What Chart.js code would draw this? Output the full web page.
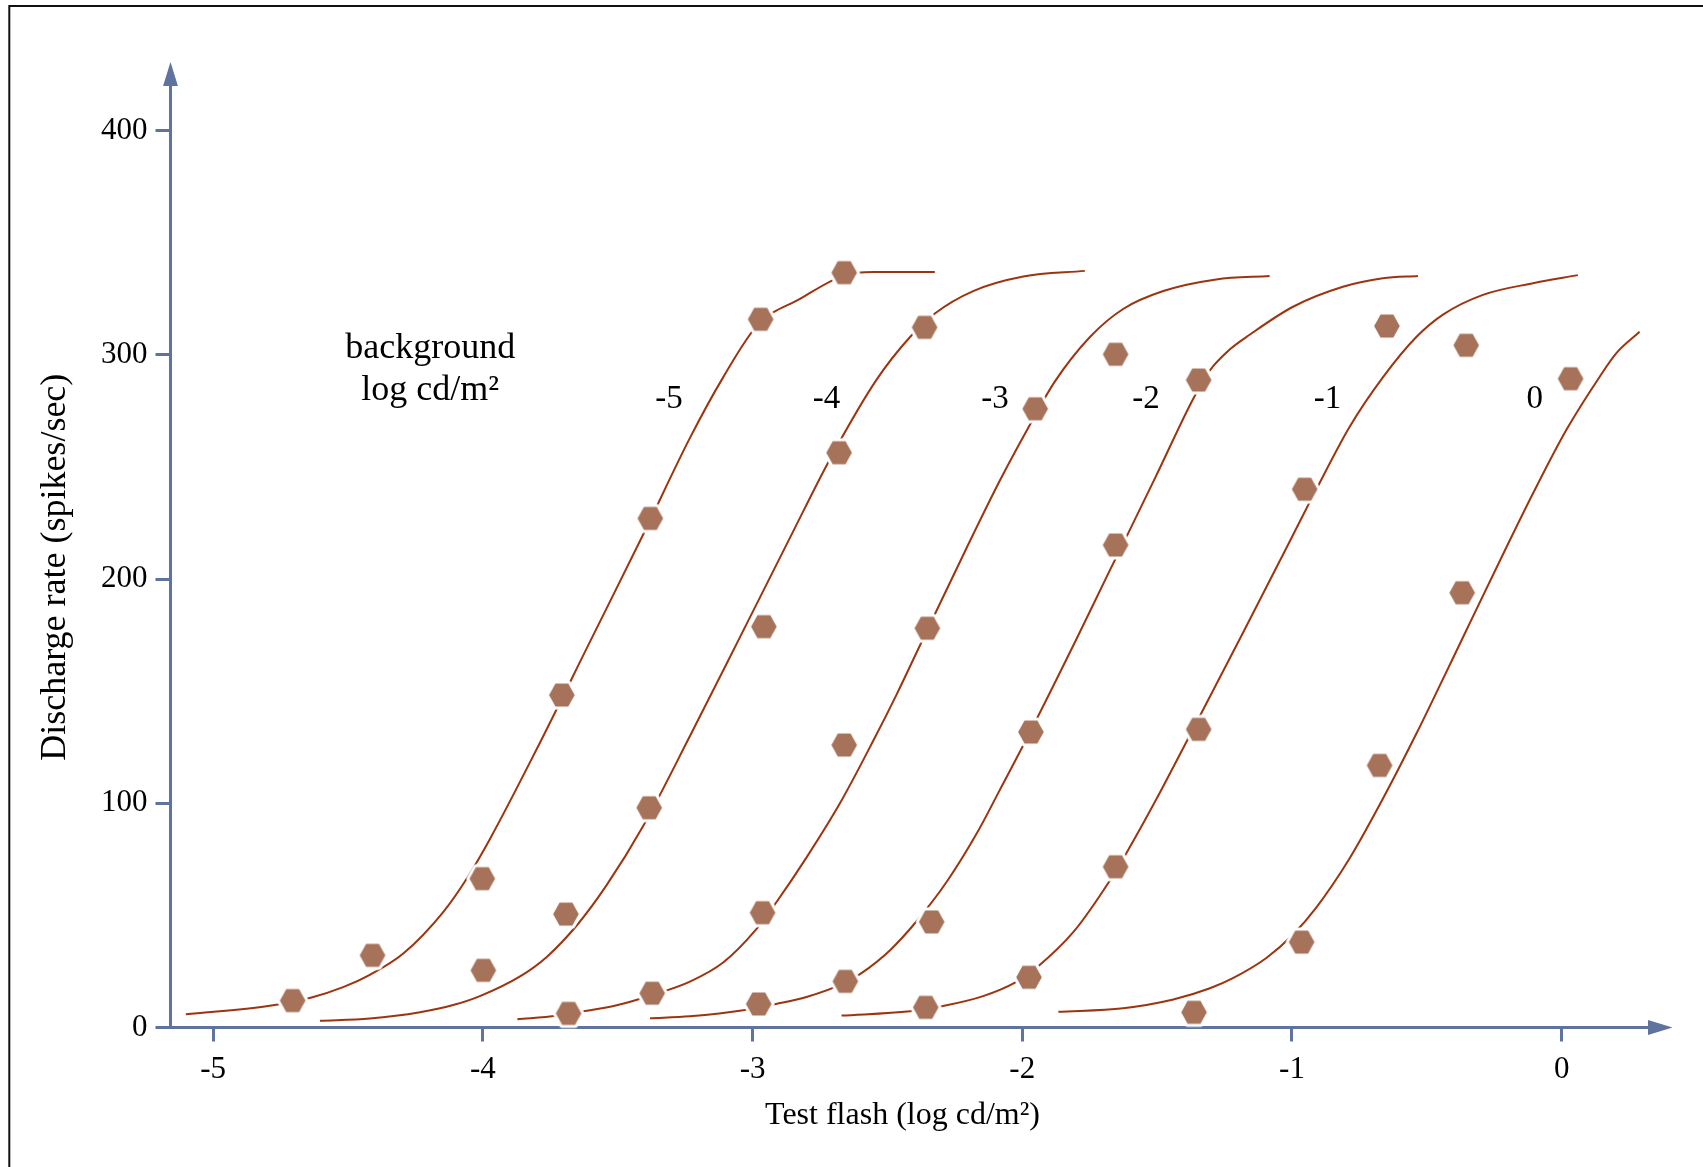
<!DOCTYPE html>
<html>
<head>
<meta charset="utf-8">
<title>Discharge rate vs test flash</title>
<script src="https://cdn.jsdelivr.net/npm/chart.js@4.4.1/dist/chart.umd.min.js"></script>
<style>
  html, body { margin: 0; padding: 0; background: #fff; }
  canvas { display: block; }
</style>
</head>
<body>
<canvas id="chart" width="1703" height="1167"></canvas>
<script>
// Background luminance of each response family (log cd/m²)
const backgrounds = ['-5', '-4', '-3', '-2', '-1', '0'];

// Measured responses: [test flash (log cd/m²), discharge rate (spikes/sec)]
const dataBgM5 = [[-4.705, 12.0], [-4.409, 32.2], [-4.002, 66.4], [-3.707, 148.3], [-3.379, 227.1], [-2.970, 315.9], [-2.660, 336.7]];
const dataBgM4 = [[-3.998, 25.5], [-3.692, 50.6], [-3.383, 98.0], [-2.958, 178.8], [-2.679, 256.4], [-2.362, 312.3]];
const dataBgM3 = [[-3.682, 6.3], [-3.372, 15.3], [-2.963, 51.2], [-2.660, 126.0], [-2.352, 178.1], [-1.952, 276.0], [-1.654, 300.3]];
const dataBgM2 = [[-2.977, 10.5], [-2.656, 20.6], [-2.336, 47.1], [-1.968, 131.8], [-1.654, 215.2], [-1.346, 288.8]];
const dataBgM1 = [[-2.358, 9.0], [-1.975, 22.4], [-1.654, 71.7], [-1.346, 133.0], [-0.953, 240.1], [-0.648, 312.9]];
const dataBg0  = [[-1.363, 6.8], [-0.964, 38.1], [-0.675, 116.9], [-0.369, 193.9], [-0.354, 304.3], [0.033, 289.4]];

// Fitted response curves, traced as [test flash, discharge rate] pairs
const fitBgM5 = [[-5.101, 5.9], [-4.790, 9.7], [-4.635, 13.4], [-4.518, 18.0], [-4.419, 23.5], [-4.295, 33.0],
  [-4.147, 51.5], [-4.054, 67.5], [-3.974, 84.0], [-3.801, 124.0], [-3.603, 172.0], [-3.405, 220.0], [-3.232, 263.0],
  [-3.109, 290.0], [-2.980, 313.5], [-2.824, 325.0], [-2.660, 335.5], [-2.550, 337.0], [-2.324, 337.0]];
const fitBgM4 = [[-4.604, 3.0], [-4.419, 4.0], [-4.233, 6.8], [-4.110, 10.0], [-4.011, 14.0], [-3.862, 22.8],
  [-3.763, 31.5], [-3.652, 45.5], [-3.541, 63.5], [-3.405, 90.0], [-3.232, 130.0], [-3.047, 174.0], [-2.861, 218.5],
  [-2.713, 253.5], [-2.540, 289.0], [-2.416, 308.0], [-2.324, 318.5], [-2.182, 328.5], [-1.996, 335.0], [-1.768, 337.5]];
const fitBgM3 = [[-3.872, 3.7], [-3.726, 5.2], [-3.634, 7.0], [-3.500, 10.0], [-3.372, 14.5], [-3.232, 20.5],
  [-3.109, 29.0], [-2.985, 44.0], [-2.911, 56.0], [-2.799, 76.0], [-2.676, 100.0], [-2.552, 128.0], [-2.466, 148.5],
  [-2.379, 170.5], [-2.206, 214.0], [-2.083, 244.0], [-1.971, 269.0], [-1.880, 288.0], [-1.749, 308.0], [-1.626, 320.5],
  [-1.477, 328.5], [-1.281, 333.7], [-1.083, 335.2]];
const fitBgM2 = [[-3.380, 4.1], [-3.232, 5.0], [-3.028, 7.8], [-2.913, 10.5], [-2.800, 13.6], [-2.656, 20.0],
  [-2.599, 24.0], [-2.490, 34.5], [-2.391, 47.5], [-2.280, 65.0], [-2.169, 86.5], [-2.083, 106.0], [-1.968, 132.5],
  [-1.798, 173.5], [-1.675, 204.0], [-1.607, 220.5], [-1.500, 247.0], [-1.366, 280.5], [-1.305, 293.0], [-1.230, 302.5],
  [-1.157, 309.0], [-0.996, 321.5], [-0.811, 330.4], [-0.663, 334.2], [-0.533, 335.2]];
const fitBgM1 = [[-2.670, 5.3], [-2.416, 7.2], [-2.297, 9.5], [-2.145, 14.0], [-2.027, 20.0], [-1.944, 27.0],
  [-1.811, 42.5], [-1.700, 61.0], [-1.613, 78.0], [-1.502, 102.0], [-1.378, 130.5], [-1.182, 176.0], [-1.033, 211.0],
  [-0.910, 240.0], [-0.786, 268.0], [-0.663, 290.0], [-0.539, 308.0], [-0.440, 318.0], [-0.292, 326.8], [-0.106, 332.0],
  [0.060, 335.6]];
const fitBg0 = [[-1.866, 7.0], [-1.626, 8.6], [-1.440, 12.5], [-1.304, 17.5], [-1.219, 22.0], [-1.095, 31.0],
  [-0.996, 41.5], [-0.910, 53.5], [-0.786, 75.5], [-0.663, 102.0], [-0.539, 131.0], [-0.452, 152.5], [-0.372, 172.5],
  [-0.230, 208.0], [-0.106, 238.3], [0.017, 266.5], [0.141, 290.3], [0.202, 300.7], [0.289, 310.3]];

// Axis ticks and texts
const xTicks = [-5, -4, -3, -2, -1, 0];
const xTickLabels = ['-5', '-4', '-3', '-2', '-1', '0'];
const yTicks = [0, 100, 200, 300, 400];
const yTickLabels = ['0', '100', '200', '300', '400'];
const xTitle = 'Test flash (log cd/m²)';
const yTitle = 'Discharge rate (spikes/sec)';
const noteLines = ['background', 'log cd/m²'];

// Styling and placement (label anchors are given in axis units)
const FONT = '"Liberation Serif", "Times New Roman", serif';
const axisColor = '#5f739f';
const curveColor = '#9c3410';
const markerColor = '#a6725a';
const labelPlace = {
  curveX: [-3.310, -2.726, -2.101, -1.541, -0.868, -0.100],
  curveBaseline: 276.2,
  noteX: -4.195,
  noteBaseline: [298.8, 279.9]
};
const arrowGeom = { yStem: 21, yLen: 24, xStem: 13.5, xLen: 24.5, half: 7.4 };

// Hexagonal marker with a white halo that breaks the curve underneath it
const hexMarker = (() => {
  const rx = 12.8, ry = 11.6, halo = 3;
  const c = document.createElement('canvas');
  c.width = Math.ceil(2 * (rx + halo + 1));
  c.height = Math.ceil(2 * (ry + halo + 1));
  const g = c.getContext('2d');
  const cx = c.width / 2, cy = c.height / 2;
  g.beginPath();
  g.moveTo(cx - rx, cy);
  g.lineTo(cx - rx / 2, cy - ry);
  g.lineTo(cx + rx / 2, cy - ry);
  g.lineTo(cx + rx, cy);
  g.lineTo(cx + rx / 2, cy + ry);
  g.lineTo(cx - rx / 2, cy + ry);
  g.closePath();
  g.lineJoin = 'round';
  g.lineWidth = halo * 2;
  g.strokeStyle = '#ffffff';
  g.stroke();
  g.fillStyle = markerColor;
  g.fill();
  return c;
})();

const toPoints = arr => arr.map(([x, y]) => ({ x, y }));

const measured = [dataBgM5, dataBgM4, dataBgM3, dataBgM2, dataBgM1, dataBg0];
const fitted = [fitBgM5, fitBgM4, fitBgM3, fitBgM2, fitBgM1, fitBg0];

const datasets = [];
measured.forEach((d, i) => datasets.push({
  label: 'Background ' + backgrounds[i],
  data: toPoints(d),
  showLine: false,
  pointStyle: hexMarker,
  pointRadius: 13,
  order: 0,
  clip: false
}));
fitted.forEach((d, i) => datasets.push({
  label: 'Fit ' + backgrounds[i],
  data: toPoints(d),
  showLine: true,
  borderColor: curveColor,
  borderWidth: 2,
  pointRadius: 0,
  cubicInterpolationMode: 'monotone',
  fill: false,
  order: 1,
  clip: false
}));

// White page with the figure frame
const framePlugin = {
  id: 'frame',
  beforeDraw(chart) {
    const { ctx, width, height } = chart;
    ctx.save();
    ctx.fillStyle = '#ffffff';
    ctx.fillRect(0, 0, width, height);
    ctx.strokeStyle = '#111111';
    ctx.lineWidth = 2;
    ctx.beginPath();
    ctx.moveTo(9.3, height);
    ctx.lineTo(9.3, 6);
    ctx.lineTo(width, 6);
    ctx.stroke();
    ctx.restore();
  }
};

// Arrowheads at the ends of both axes
const arrowPlugin = {
  id: 'axisArrows',
  afterDraw(chart) {
    const { ctx, chartArea: a } = chart;
    const g = arrowGeom;
    const yAxisX = a.left;
    const xAxisY = a.bottom;
    ctx.save();
    ctx.strokeStyle = axisColor;
    ctx.fillStyle = axisColor;
    ctx.lineWidth = 3;
    ctx.beginPath();
    ctx.moveTo(yAxisX, a.top + 1);
    ctx.lineTo(yAxisX, a.top - g.yStem);
    ctx.moveTo(a.right - 1, xAxisY);
    ctx.lineTo(a.right + g.xStem, xAxisY);
    ctx.stroke();
    ctx.beginPath();
    ctx.moveTo(yAxisX, a.top - g.yStem - g.yLen);
    ctx.lineTo(yAxisX - g.half, a.top - g.yStem);
    ctx.lineTo(yAxisX + g.half, a.top - g.yStem);
    ctx.closePath();
    ctx.fill();
    ctx.beginPath();
    ctx.moveTo(a.right + g.xStem + g.xLen, xAxisY);
    ctx.lineTo(a.right + g.xStem, xAxisY - g.half);
    ctx.lineTo(a.right + g.xStem, xAxisY + g.half);
    ctx.closePath();
    ctx.fill();
    ctx.restore();
  }
};

// Background labels on each curve and the explanatory note
const labelPlugin = {
  id: 'curveLabels',
  afterDatasetsDraw(chart) {
    const { ctx, scales: { x, y } } = chart;
    ctx.save();
    ctx.fillStyle = '#000000';
    ctx.textAlign = 'center';
    ctx.textBaseline = 'alphabetic';
    ctx.font = '33px ' + FONT;
    backgrounds.forEach((t, i) => {
      ctx.fillText(t, x.getPixelForValue(labelPlace.curveX[i]), y.getPixelForValue(labelPlace.curveBaseline));
    });
    ctx.font = '36px ' + FONT;
    noteLines.forEach((t, i) => {
      ctx.fillText(t, x.getPixelForValue(labelPlace.noteX), y.getPixelForValue(labelPlace.noteBaseline[i]));
    });
    ctx.restore();
  }
};

new Chart(document.getElementById('chart'), {
  type: 'scatter',
  data: { datasets },
  options: {
    responsive: false,
    maintainAspectRatio: false,
    animation: false,
    devicePixelRatio: 1,
    events: [],
    layout: { padding: { top: 107, right: 68.5, bottom: 0, left: 0 } },
    plugins: {
      legend: { display: false },
      tooltip: { enabled: false }
    },
    scales: {
      x: {
        type: 'linear',
        position: 'bottom',
        min: -5.158,
        max: 0.27,
        afterBuildTicks: s => { s.ticks = xTicks.map(v => ({ value: v })); },
        afterFit: s => { s.height = 139.5; },
        grid: { display: true, drawOnChartArea: false, drawTicks: true, tickLength: 14, tickWidth: 3, tickColor: axisColor, color: axisColor },
        border: { display: true, color: axisColor, width: 3 },
        ticks: {
          color: '#000000',
          font: { family: FONT, size: 31 },
          padding: 9.4,
          maxRotation: 0,
          autoSkip: false,
          callback: v => xTickLabels[xTicks.indexOf(v)]
        },
        title: {
          display: true,
          text: xTitle,
          color: '#000000',
          font: { family: FONT, size: 32 },
          padding: { top: 0, bottom: 31.9 }
        }
      },
      y: {
        type: 'linear',
        position: 'left',
        min: 0,
        max: 410.6,
        afterBuildTicks: s => { s.ticks = yTicks.map(v => ({ value: v })); },
        afterFit: s => { s.width = 170.5; },
        grid: { display: true, drawOnChartArea: false, drawTicks: true, tickLength: 15, tickWidth: 3, tickColor: axisColor, color: axisColor },
        border: { display: true, color: axisColor, width: 3 },
        ticks: {
          color: '#000000',
          font: { family: FONT, size: 31 },
          padding: 8,
          autoSkip: false,
          callback: v => yTickLabels[yTicks.indexOf(v)]
        },
        title: {
          display: true,
          text: yTitle,
          color: '#000000',
          font: { family: FONT, size: 36 },
          padding: { top: 33.6, bottom: 0 }
        }
      }
    }
  },
  plugins: [framePlugin, arrowPlugin, labelPlugin]
});
</script>
</body>
</html>
